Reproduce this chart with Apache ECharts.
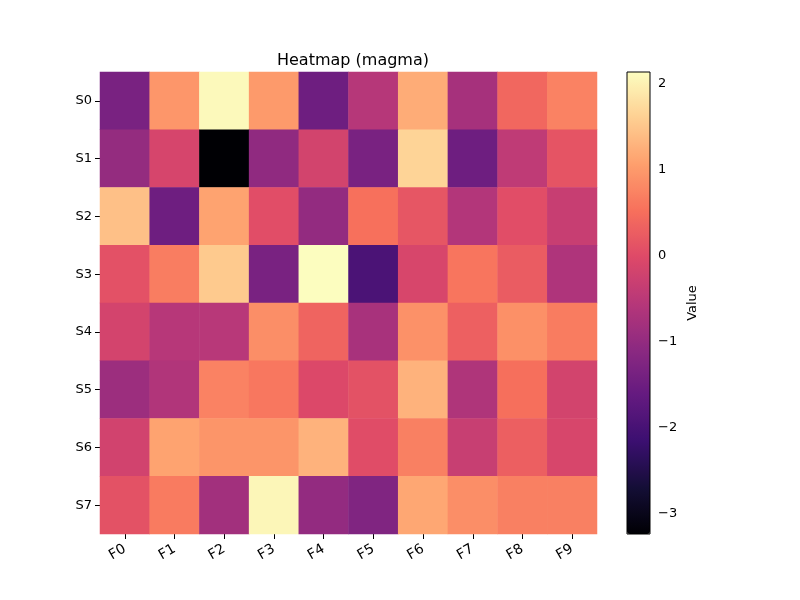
<!DOCTYPE html>
<html>
<head>
<meta charset="utf-8">
<script src="https://cdn.jsdelivr.net/npm/echarts@6/dist/echarts.min.js"></script>
<style>
  html, body { margin: 0; padding: 0; background: #fff; }
  #chart { width: 800px; height: 600px; }
</style>
</head>
<body>
<div id="chart"></div>
<script>
const features = ['F0', 'F1', 'F2', 'F3', 'F4', 'F5', 'F6', 'F7', 'F8', 'F9'];
const samples = ['S0', 'S1', 'S2', 'S3', 'S4', 'S5', 'S6', 'S7'];

// one array per row (sample)
const rowS0 = [-1.35, 0.95, 2.08, 1.0, -1.5, -0.57, 1.2, -0.77, 0.4, 0.73];
const rowS1 = [-0.99, -0.13, -3.24, -1.04, -0.18, -1.35, 1.65, -1.5, -0.45, 0.14];
const rowS2 = [1.43, -1.5, 1.1, 0.04, -1.0, 0.52, 0.16, -0.6, 0.04, -0.34];
const rowS3 = [0.09, 0.67, 1.54, -1.35, 2.13, -1.95, -0.12, 0.58, 0.25, -0.66];
const rowS4 = [-0.17, -0.55, -0.54, 0.86, 0.35, -0.74, 0.9, 0.3, 0.88, 0.66];
const rowS5 = [-0.89, -0.63, 0.73, 0.6, -0.04, 0.1, 1.27, -0.65, 0.5, -0.18];
const rowS6 = [-0.2, 1.1, 0.94, 0.94, 1.27, 0.02, 0.7, -0.33, 0.28, -0.12];
const rowS7 = [0.1, 0.64, -0.82, 2.05, -1.0, -1.25, 1.15, 0.86, 0.7, 0.7];
const rows = [rowS0, rowS1, rowS2, rowS3, rowS4, rowS5, rowS6, rowS7];

const colorbarTicks = [-3, -2, -1, 0, 1, 2];
const vMin = -3.24;
const vMax = 2.13;

const magma = ['#000004', '#140e36', '#3b0f70', '#641a80', '#8c2981', '#b73779',
  '#de4968', '#f7705c', '#fe9f6d', '#fecf92', '#fcfdbf'];

const heatData = [];
rows.forEach((row, y) => {
  row.forEach((v, x) => heatData.push([x, y, v]));
});

const font = 'DejaVu Sans';
const minus = v => String(v).replace('-', '\u2212');

const chart = echarts.init(document.getElementById('chart'));
chart.setOption({
  animation: false,
  title: {
    text: 'Heatmap (magma)',
    left: 348,
    top: 48,
    textAlign: 'center',
    textStyle: { fontFamily: font, fontSize: 16, fontWeight: 'normal', color: '#000' }
  },
  grid: [
    { left: 100, top: 72, width: 497, height: 462 },
    { left: 627, top: 72, width: 23, height: 462, show: true, z: 10,
      borderColor: '#000', borderWidth: 1, backgroundColor: 'transparent' }
  ],
  xAxis: [
    {
      type: 'category',
      data: features,
      gridIndex: 0,
      axisLine: { show: false },
      axisTick: { show: true, alignWithLabel: true, length: 5, lineStyle: { color: '#000' } },
      axisLabel: { rotate: 30, color: '#000', fontFamily: font, fontSize: 14, margin: 14 },
      splitLine: { show: false }
    },
    { type: 'value', gridIndex: 1, show: false }
  ],
  yAxis: [
    {
      type: 'category',
      data: samples,
      inverse: true,
      gridIndex: 0,
      axisLine: { show: false },
      axisTick: { show: true, alignWithLabel: true, length: 5, lineStyle: { color: '#000' } },
      axisLabel: { color: '#000', fontFamily: font, fontSize: 13, margin: 8 },
      splitLine: { show: false }
    },
    {
      type: 'value',
      gridIndex: 1,
      min: vMin,
      max: vMax,
      position: 'right',
      name: 'Value',
      nameLocation: 'middle',
      nameRotate: 90,
      nameGap: 36,
      nameTextStyle: { color: '#000', fontFamily: font, fontSize: 13 },
      axisLine: { show: false },
      axisTick: { show: true, length: 5, customValues: colorbarTicks, lineStyle: { color: '#000' } },
      axisLabel: { show: true, customValues: colorbarTicks, formatter: minus,
        color: '#000', fontFamily: font, fontSize: 13, margin: 8 },
      splitLine: { show: false }
    }
  ],
  visualMap: {
    type: 'continuous',
    min: vMin,
    max: vMax,
    seriesIndex: 0,
    calculable: false,
    show: true,
    left: 627,
    top: 72,
    itemWidth: 23,
    itemHeight: 462,
    padding: 0,
    text: null,
    hoverLink: false,
    inRange: { color: magma }
  },
  series: [
    {
      type: 'heatmap',
      xAxisIndex: 0,
      yAxisIndex: 0,
      data: heatData,
      emphasis: { disabled: true }
    }
  ]
});
</script>
</body>
</html>
